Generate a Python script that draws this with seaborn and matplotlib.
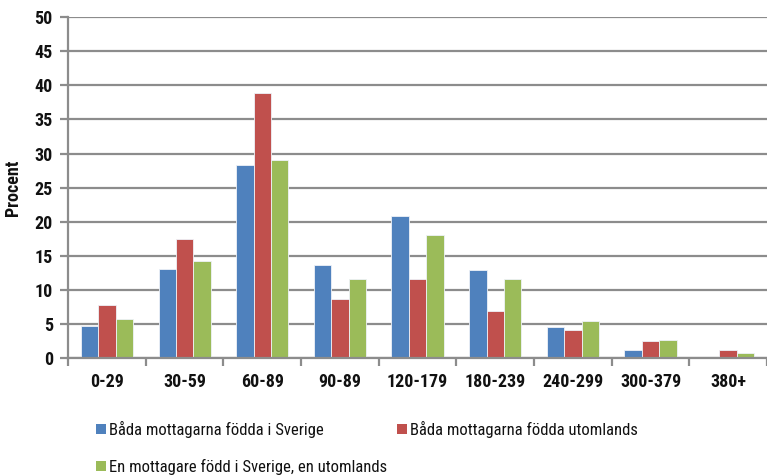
import matplotlib
matplotlib.use("Agg")
import matplotlib.pyplot as plt
import seaborn as sns
import pandas as pd
import numpy as np
from matplotlib.ticker import MultipleLocator, FixedLocator
from matplotlib.patches import Patch

categories = ["0-29", "30-59", "60-89", "90-89", "120-179", "180-239", "240-299", "300-379", "380+"]
series_names = ["Båda mottagarna födda i Sverige",
                "Båda mottagarna födda utomlands",
                "En mottagare född i Sverige, en utomlands"]
blue_vals = [4.7, 13.0, 28.3, 13.6, 20.8, 12.9, 4.5, 1.2, 0.2]
red_vals = [7.8, 17.4, 38.8, 8.6, 11.6, 6.9, 4.2, 2.5, 1.2]
green_vals = [5.7, 14.2, 29.1, 11.6, 18.0, 11.6, 5.4, 2.7, 0.7]
colors = ["#4F81BD", "#C0504D", "#9BBB59"]

rows = []
for name, vals in zip(series_names, [blue_vals, red_vals, green_vals]):
    for c, v in zip(categories, vals):
        rows.append({"Kategori": c, "Serie": name, "Procent": v})
df = pd.DataFrame(rows)

sns.set_theme(style="white")
plt.rcParams['font.family'] = ['Roboto Condensed', 'DejaVu Sans']

fig = plt.figure(figsize=(7.67, 4.75), dpi=100)
ax = fig.add_axes([0.0887, 0.246, 0.9113, 0.718])

sns.barplot(data=df, x="Kategori", y="Procent", hue="Serie", order=categories,
            hue_order=series_names, palette=colors, width=0.67, ax=ax,
            edgecolor="#eef2f8", linewidth=0.6, legend=False, saturation=1)

ax.set_ylim(0, 50)
ax.set_xlim(-0.5, len(categories) - 0.5)
ax.yaxis.set_major_locator(MultipleLocator(5))
ax.grid(axis="y", color="#8c8c8c", linewidth=1.6)
ax.set_axisbelow(True)
for s in ["top", "right"]:
    ax.spines[s].set_visible(False)
for s in ["left", "bottom"]:
    ax.spines[s].set_color("#8c8c8c")
    ax.spines[s].set_linewidth(1.6)

ax.tick_params(axis="y", which="major", direction="out", length=6, width=1.6,
               color="#8c8c8c", left=True, labelsize=13, pad=5)
ax.tick_params(axis="x", which="major", length=0, labelsize=13, pad=11)
ax.xaxis.set_minor_locator(FixedLocator(np.arange(-0.5, len(categories), 1.0)))
ax.tick_params(axis="x", which="minor", direction="out", length=6, width=1.6,
               color="#8c8c8c", bottom=True)
for lbl in ax.get_xticklabels() + ax.get_yticklabels():
    lbl.set_fontweight("bold")
    lbl.set_color("#111111")
ax.set_xlabel("")
ax.set_ylabel("Procent", fontsize=13, fontweight="bold", color="#111111", labelpad=9)

handles = [Patch(facecolor=c, edgecolor="none") for c in colors]
order = [0, 2, 1]
fig.legend([handles[i] for i in order], [series_names[i] for i in order],
           loc="upper left", bbox_to_anchor=(0.125, 0.114),
           ncol=2, frameon=False, fontsize=12, handlelength=0.6, handleheight=0.6,
           handletextpad=0.2, columnspacing=0.55, labelspacing=1.27, borderaxespad=0,
           borderpad=0, labelcolor="#111111")

fig.savefig("out.png", dpi=100)
